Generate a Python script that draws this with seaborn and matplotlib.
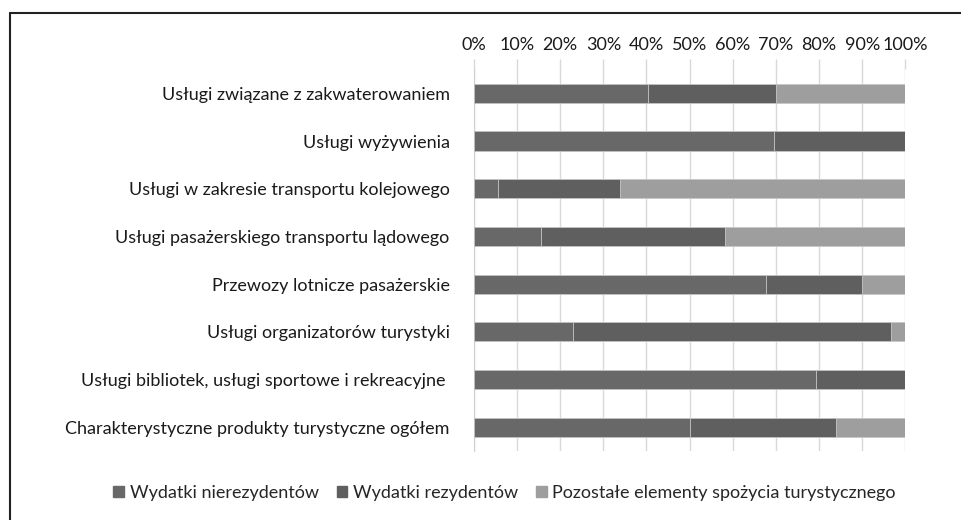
import matplotlib.pyplot as plt
import matplotlib.lines as mlines
import numpy as np
import pandas as pd
import seaborn as sns

categories = [
    "Usługi związane z zakwaterowaniem",
    "Usługi wyżywienia",
    "Usługi w zakresie transportu kolejowego",
    "Usługi pasażerskiego transportu lądowego",
    "Przewozy lotnicze pasażerskie",
    "Usługi organizatorów turystyki",
    "Usługi bibliotek, usługi sportowe i rekreacyjne ",
    "Charakterystyczne produkty turystyczne ogółem",
]
nierezydenci = [40.3, 69.5, 5.6, 15.6, 67.6, 23.0, 79.3, 50.0]
rezydenci = [29.8, 30.5, 28.2, 42.6, 22.4, 73.8, 20.7, 34.0]
pozostale = [29.9, 0.0, 66.2, 41.8, 10.0, 3.2, 0.0, 16.0]

series = ["Wydatki nierezydentów", "Wydatki rezydentów",
          "Pozostałe elementy spożycia turystycznego"]
colors = ["#686868", "#5f5f5f", "#9e9e9e"]

df = pd.DataFrame({"cat": categories, series[0]: nierezydenci,
                   series[1]: rezydenci, series[2]: pozostale})
# cumulative totals, drawn from the longest down so the segments stack
cum = df[series].cumsum(axis=1)

sns.set_style("white")
plt.rcParams["font.family"] = ["Lato", "DejaVu Sans"]

fig = plt.figure(figsize=(9.61, 5.2), dpi=100)
ax = fig.add_axes([0.4932, 0.1327, 0.4488, 0.7337])

for s, c in reversed(list(zip(series, colors))):
    sns.barplot(x=cum[s], y=df["cat"], color=c, orient="h", width=0.4,
                edgecolor="#c8c8c8", linewidth=0.6, ax=ax, zorder=3)

ax.set_xlim(0, 100)
ax.set_xticks(np.arange(0, 101, 10))
ax.set_xticklabels([f"{v}%" for v in range(0, 101, 10)])
ax.xaxis.tick_top()
ax.tick_params(axis="x", top=True, length=7, color="#d9d9d9", width=1,
               labelsize=13, pad=5, labelcolor="#1a1a1a")
ax.tick_params(axis="y", left=False, labelsize=13, pad=14, labelcolor="#1a1a1a")
ax.grid(axis="x", color="#d9d9d9", linewidth=1, zorder=0)
ax.set_axisbelow(True)
for side in ["top", "right", "bottom"]:
    ax.spines[side].set_visible(False)
ax.spines["left"].set_color("#d0d0d0")
ax.set_xlabel("")
ax.set_ylabel("")

handles = [plt.Rectangle((0, 0), 1, 1, color=c) for c in colors]
fig.legend(handles, series, loc="center", bbox_to_anchor=(0.525, 0.052),
           ncol=3, frameon=False, fontsize=13, handlelength=0.6,
           handleheight=0.6, handletextpad=0.3, columnspacing=1.0)

# frame lines round the figure (left and top)
fig.add_artist(mlines.Line2D([9.5 / 961, 9.5 / 961], [0, 1 - 13 / 520],
                             color="#222222", linewidth=1.5))
fig.add_artist(mlines.Line2D([9.5 / 961, 1], [1 - 13 / 520, 1 - 13 / 520],
                             color="#222222", linewidth=1.5))

fig.savefig("out.png", dpi=100, facecolor="white")
